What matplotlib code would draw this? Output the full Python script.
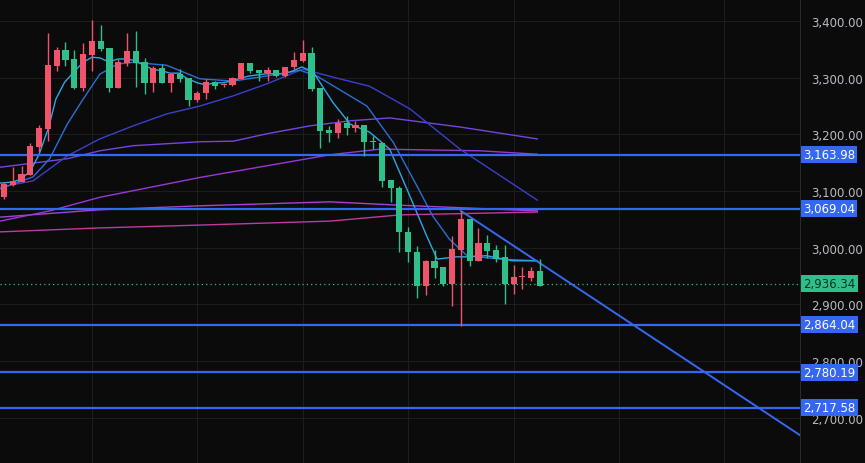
import numpy as np
import matplotlib
matplotlib.use('Agg')
import matplotlib.pyplot as plt

# OHLC per candle
opens  = [3090, 3111, 3116, 3128, 3178, 3210, 3321, 3349, 3333, 3282, 3340, 3365, 3352, 3282, 3326, 3347,
          3328, 3291, 3317, 3291, 3307, 3300, 3261, 3273, 3292, 3287, 3287, 3298, 3326, 3314, 3308, 3314,
          3303, 3319, 3329, 3344, 3282, 3208, 3202, 3220, 3211, 3217, 3188, 3185, 3120, 3105, 3028, 2993,
          2933, 2977, 2966, 2936, 2996, 3051, 2977, 3008, 2996, 2984, 2936, 2948, 2947, 2959]
highs  = [3116, 3142, 3144, 3185, 3217, 3379, 3354, 3363, 3349, 3361, 3402, 3393, 3352, 3333, 3379, 3382,
          3335, 3321, 3324, 3307, 3315, 3300, 3277, 3298, 3294, 3291, 3301, 3326, 3326, 3314, 3319, 3314,
          3319, 3345, 3367, 3354, 3282, 3215, 3227, 3232, 3224, 3217, 3197, 3187, 3120, 3109, 3037, 3003,
          2978, 2996, 2966, 3021, 3065, 3051, 3035, 3023, 3005, 3005, 2970, 2966, 2966, 2980]
lows   = [3086, 3109, 3116, 3128, 3169, 3188, 3312, 3321, 3280, 3276, 3312, 3347, 3275, 3282, 3321, 3284,
          3271, 3275, 3291, 3275, 3292, 3250, 3257, 3262, 3280, 3284, 3285, 3298, 3308, 3294, 3294, 3301,
          3301, 3315, 3328, 3277, 3176, 3187, 3194, 3199, 3204, 3162, 3174, 3107, 3081, 2993, 2975, 2911,
          2917, 2947, 2933, 2897, 2862, 2968, 2977, 2982, 2975, 2901, 2918, 2927, 2941, 2933]
closes = [3112, 3118, 3130, 3180, 3211, 3322, 3349, 3331, 3282, 3342, 3365, 3351, 3282, 3328, 3347, 3326,
          3291, 3317, 3291, 3307, 3298, 3261, 3273, 3292, 3285, 3289, 3300, 3326, 3312, 3308, 3314, 3303,
          3319, 3331, 3344, 3280, 3206, 3202, 3220, 3211, 3217, 3187, 3187, 3118, 3105, 3028, 2993, 2933,
          2977, 2964, 2936, 2998, 3051, 2977, 3008, 2994, 2980, 2936, 2948, 2950, 2959, 2933]

# moving average lines, sampled (candle index, price)
ma_fast = [(-0.45, 3114), (1.0, 3116), (1.9, 3121), (3.0, 3135), (4.0, 3165), (5.1, 3213), (5.9, 3262),
           (6.9, 3292), (8.0, 3311), (9.0, 3327), (10.0, 3336), (10.9, 3335), (11.9, 3328), (13.0, 3333),
           (14.0, 3333), (14.9, 3330), (15.9, 3322), (16.9, 3315), (18.0, 3312), (18.9, 3308), (19.9, 3308),
           (20.9, 3298), (22.0, 3291), (23.0, 3287), (23.9, 3291), (24.9, 3291), (25.9, 3294), (26.9, 3299),
           (27.9, 3303), (28.9, 3305), (29.9, 3307), (31.9, 3307), (32.9, 3312), (33.9, 3319), (35.2, 3310),
           (37.4, 3257), (39.4, 3218), (41.6, 3204), (43.9, 3174), (46.2, 3091), (48.1, 3021), (49.3, 2980),
           (51.5, 2984), (52.7, 2984), (54.9, 2986), (57.9, 2977), (60.7, 2977)]
ma_mid = [(-0.45, 3104), (3.3, 3125), (5.2, 3157), (7.2, 3218), (9.0, 3262), (10.9, 3306), (12.9, 3324),
          (14.7, 3327), (18.5, 3322), (22.3, 3298), (26.1, 3294), (29.9, 3303), (33.7, 3313), (35.6, 3303),
          (41.3, 3250), (44.3, 3186), (47.0, 3109), (48.8, 3056), (50.7, 3015), (52.7, 2986), (56.4, 2980),
          (60.7, 2977)]
ma_20 = [(-0.45, 3107), (3.3, 3118), (7.2, 3162), (10.9, 3192), (14.7, 3215), (18.5, 3236), (22.3, 3250),
         (26.1, 3268), (29.9, 3289), (34.0, 3315), (38.2, 3298), (41.6, 3285), (46.2, 3245), (51.9, 3174),
         (60.7, 3084)]
ma_30 = [(-0.45, 3142), (7.2, 3157), (10.9, 3171), (14.7, 3180), (22.3, 3187), (26.1, 3188), (29.9, 3201),
         (34.8, 3215), (39.4, 3224), (43.9, 3229), (51.9, 3213), (60.7, 3192)]
ma_60 = [(-0.45, 3047), (5.2, 3065), (10.9, 3089), (22.3, 3124), (37.1, 3164), (42.8, 3174), (54.2, 3171),
         (60.7, 3165)]
ma_120 = [(-0.45, 3054), (10.9, 3067), (22.3, 3074), (37.1, 3081), (45.1, 3075), (60.7, 3065)]
ma_200 = [(-0.45, 3028), (10.9, 3035), (22.3, 3040), (37.1, 3047), (45.1, 3058), (60.7, 3063)]

levels = [3163.98, 3069.04, 2864.04, 2780.19, 2717.58]
last_price = 2936.34
trend = [(52, 3065), (92, 2655)]
yticks = [3400, 3300, 3200, 3100, 3000, 2900, 2800, 2700]

BG = '#0b0b0b'
UP, DOWN = '#f0546a', '#2fbf8a'
LEVEL = '#3468f2'

fig = plt.figure(figsize=(8.65, 4.64), dpi=100, facecolor=BG)
ax = fig.add_axes([0, 0, 800 / 865, 1])
ax.set_facecolor(BG)
ax.set_xlim(-0.455, 90.6)
ax.set_ylim(2620.3, 3438.8)

for g in range(10, 90, 12):
    ax.axvline(g, color='#1d1d1d', lw=0.8, zorder=0)
for t in yticks:
    ax.axhline(t, color='#1d1d1d', lw=0.8, zorder=0)

for pts, col in [(ma_200, '#c2389f'), (ma_120, '#a640d8'), (ma_60, '#9a38d4'), (ma_30, '#7446dc'),
                 (ma_20, '#3c3fd0'), (ma_mid, '#2a6fd6'), (ma_fast, '#2ea6e6')]:
    xs, ys = zip(*pts)
    ax.plot(xs, ys, color=col, lw=1, zorder=2)

for lv in levels:
    ax.axhline(lv, color=LEVEL, lw=1.6, zorder=3)
ax.axhline(last_price, color=DOWN, lw=0.9, ls=(0, (1, 2.5)), zorder=3)
ax.plot(*zip(*trend), color=LEVEL, lw=1.4, zorder=3)

for i, (o, h, l, c) in enumerate(zip(opens, highs, lows, closes)):
    col = UP if c >= o else DOWN
    ax.vlines(i, l, h, color=col, lw=1, zorder=4)
    ax.bar(i, max(abs(c - o), 0.8), bottom=min(o, c), width=0.7, color=col, zorder=5)

ax.set_xticks([])
ax.yaxis.tick_right()
ax.set_yticks(yticks)
ax.set_yticklabels([f'{t:,.2f}' for t in yticks])
ax.tick_params(axis='y', length=0, pad=8, labelsize=8.5, labelcolor='#b8bbc4')
for s in ['top', 'bottom', 'left']:
    ax.spines[s].set_visible(False)
ax.spines['right'].set_color('#2a2a2a')

tr = ax.get_yaxis_transform()
for lv in levels:
    ax.text(1.004, lv, f'{lv:,.2f}', transform=tr, ha='left', va='center', fontsize=8.5, color='white',
            clip_on=False, zorder=10,
            bbox=dict(boxstyle='square,pad=0.18', facecolor=LEVEL, edgecolor='none'))
ax.text(1.004, last_price, f'{last_price:,.2f}', transform=tr, ha='left', va='center', fontsize=8.5,
        color='#0b3324', clip_on=False, zorder=10,
        bbox=dict(boxstyle='square,pad=0.18', facecolor=DOWN, edgecolor='none'))

fig.savefig('out.png', dpi=100, facecolor=BG)
